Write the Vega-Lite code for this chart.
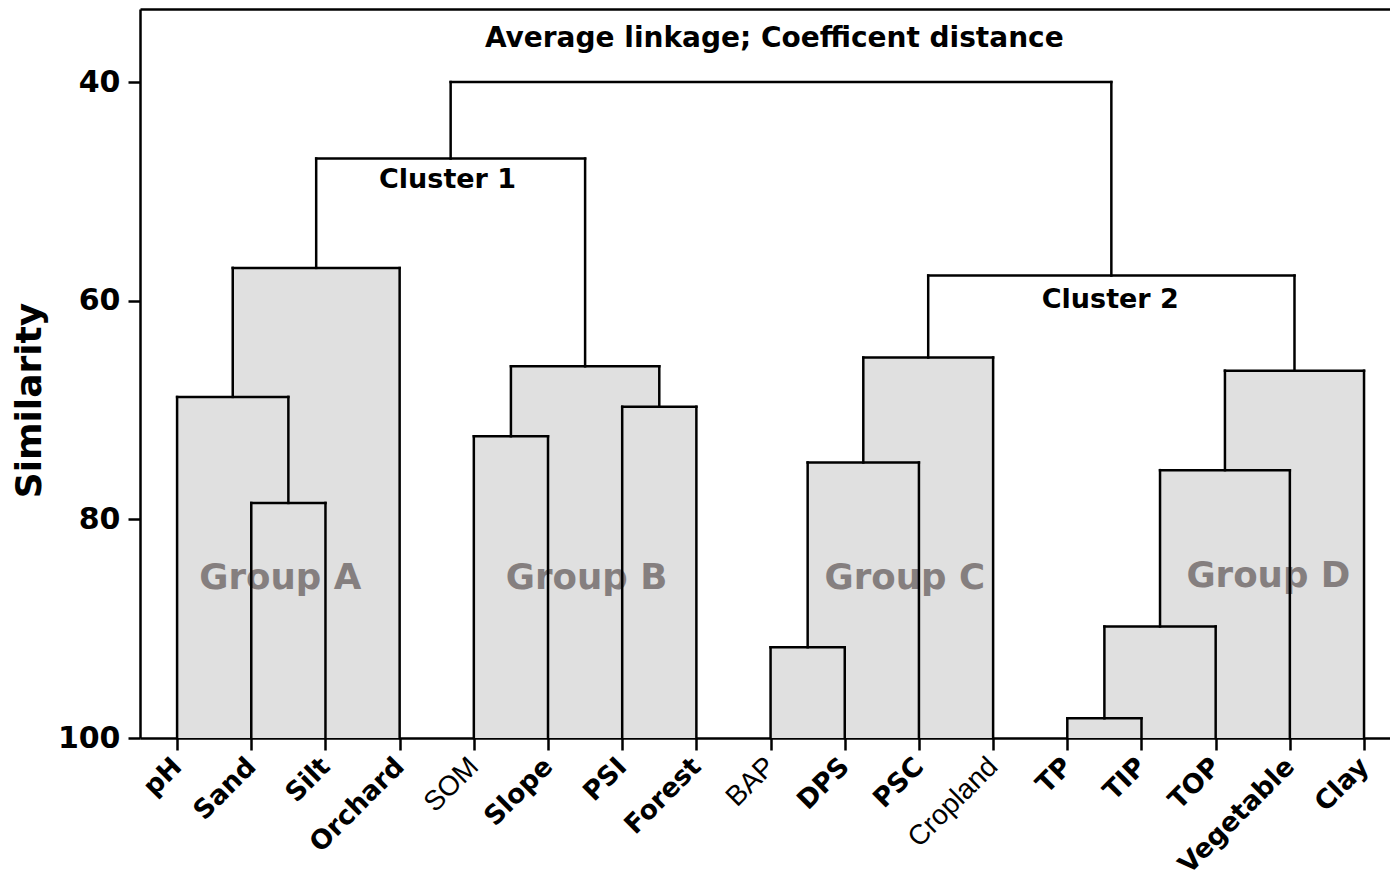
{
  "$schema": "https://vega.github.io/schema/vega-lite/v6.json",
  "width": 1250,
  "height": 729,
  "autosize": {"type": "none"},
  "padding": {"left": 140, "top": 9, "right": 0, "bottom": 145},
  "background": "white",
  "config": {
    "view": {"stroke": null},
    "axis": {
      "grid": false,
      "domainColor": "black",
      "domainWidth": 2.5,
      "tickColor": "black",
      "tickWidth": 2.5,
      "labelColor": "black",
      "titleColor": "black"
    }
  },
  "datasets": {
    "merges": [
      {"node": "A1", "left": 1, "right": 2, "leftH": 100, "rightH": 100, "height": 78.5, "group": "A"},
      {"node": "A2", "left": 0, "right": 1.5, "leftH": 100, "rightH": 78.5, "height": 68.8, "group": "A"},
      {"node": "A3", "left": 0.75, "right": 3, "leftH": 68.8, "rightH": 100, "height": 57.0, "group": "A"},
      {"node": "B1", "left": 4, "right": 5, "leftH": 100, "rightH": 100, "height": 72.4, "group": "B"},
      {"node": "B2", "left": 6, "right": 7, "leftH": 100, "rightH": 100, "height": 69.7, "group": "B"},
      {"node": "B3", "left": 4.5, "right": 6.5, "leftH": 72.4, "rightH": 69.7, "height": 66.0, "group": "B"},
      {"node": "Cluster1", "left": 1.875, "right": 5.5, "leftH": 57.0, "rightH": 66.0, "height": 47.0, "group": null},
      {"node": "C1", "left": 8, "right": 9, "leftH": 100, "rightH": 100, "height": 91.7, "group": "C"},
      {"node": "C2", "left": 8.5, "right": 10, "leftH": 91.7, "rightH": 100, "height": 74.8, "group": "C"},
      {"node": "C3", "left": 9.25, "right": 11, "leftH": 74.8, "rightH": 100, "height": 65.2, "group": "C"},
      {"node": "D1", "left": 12, "right": 13, "leftH": 100, "rightH": 100, "height": 98.2, "group": "D"},
      {"node": "D2", "left": 12.5, "right": 14, "leftH": 98.2, "rightH": 100, "height": 89.8, "group": "D"},
      {"node": "D3", "left": 13.25, "right": 15, "leftH": 89.8, "rightH": 100, "height": 75.5, "group": "D"},
      {"node": "D4", "left": 14.125, "right": 16, "leftH": 75.5, "rightH": 100, "height": 66.4, "group": "D"},
      {"node": "Cluster2", "left": 10.125, "right": 15.0625, "leftH": 65.2, "rightH": 66.4, "height": 57.7, "group": null},
      {"node": "Root", "left": 3.6875, "right": 12.59375, "leftH": 47.0, "rightH": 57.7, "height": 40.0, "group": null}
    ],
    "notes": [
      {"x": 8.05, "y": 36.1, "text": "Average linkage; Coefficent distance", "kind": "title"},
      {"x": 3.646, "y": 49.0, "text": "Cluster 1", "kind": "cluster"},
      {"x": 12.58, "y": 59.95, "text": "Cluster 2", "kind": "cluster"},
      {"x": 1.39, "y": 85.4, "text": "Group A", "kind": "group"},
      {"x": 5.52, "y": 85.4, "text": "Group B", "kind": "group"},
      {"x": 9.81, "y": 85.4, "text": "Group C", "kind": "group"},
      {"x": 14.71, "y": 85.2, "text": "Group D", "kind": "group"}
    ]
  },
  "resolve": {"axis": {"x": "independent"}},
  "layer": [
    {
      "data": {"name": "merges"},
      "transform": [{"filter": "datum.group != null"}],
      "mark": {"type": "rect", "fill": "#e0e0e0"},
      "encoding": {
        "x": {
          "field": "left",
          "type": "quantitative",
          "scale": {"domain": [-0.5, 16.35], "zero": false, "nice": false},
          "axis": {
            "orient": "bottom",
            "title": null,
            "values": [0, 1, 2, 3, 4, 5, 6, 7, 8, 9, 10, 11, 12, 13, 14, 15, 16],
            "labelExpr": "['pH','Sand','Silt','Orchard','SOM','Slope','PSI','Forest','BAP','DPS','PSC','Cropland','TP','TIP','TOP','Vegetable','Clay'][datum.value]",
            "labelAngle": -45,
            "labelAlign": "right",
            "labelBaseline": "middle",
            "labelFontSize": {"condition": {"test": "indexof([4, 8, 11], datum.value) >= 0", "value": 28}, "value": 26.6},
            "labelFont": {"condition": {"test": "indexof([4, 8, 11], datum.value) >= 0", "value": "Liberation Sans"}, "value": "DejaVu Sans"},
            "labelFontWeight": {"condition": {"test": "indexof([4, 8, 11], datum.value) >= 0", "value": "normal"}, "value": "bold"},
            "labelPadding": 12,
            "labelOverlap": false,
            "labelBound": false,
            "labelFlush": false,
            "tickSize": 12
          }
        },
        "x2": {"field": "right"},
        "y": {
          "field": "height",
          "type": "quantitative",
          "title": "Similarity",
          "scale": {"domain": [33.32, 100], "reverse": true, "zero": false, "nice": false},
          "axis": {
            "values": [40, 60, 80, 100],
            "ticks": true,
            "tickSize": 12,
            "labelFont": "DejaVu Sans",
            "labelFontWeight": "bold",
            "labelFontSize": 30,
            "labelPadding": 8,
            "titleFont": "DejaVu Sans",
            "titleFontWeight": "bold",
            "titleFontSize": 36,
            "titlePadding": 9,
            "titleY": 391
          }
        },
        "y2": {"datum": 100}
      }
    },
    {
      "data": {"name": "notes"},
      "transform": [{"filter": "datum.kind == 'group'"}],
      "mark": {"type": "text", "font": "DejaVu Sans", "fontWeight": "bold", "fontSize": 35.6, "color": "#857f7f", "align": "center", "baseline": "middle"},
      "encoding": {
        "x": {"field": "x", "type": "quantitative", "axis": null},
        "y": {"field": "y", "type": "quantitative", "title": "Similarity"},
        "text": {"field": "text"}
      }
    },
    {
      "data": {"name": "notes"},
      "transform": [{"filter": "datum.kind == 'cluster'"}],
      "mark": {"type": "text", "font": "DejaVu Sans", "fontWeight": "bold", "fontSize": 27, "color": "black", "align": "center", "baseline": "middle"},
      "encoding": {
        "x": {"field": "x", "type": "quantitative", "axis": null},
        "y": {"field": "y", "type": "quantitative", "title": "Similarity"},
        "text": {"field": "text"}
      }
    },
    {
      "data": {"name": "notes"},
      "transform": [{"filter": "datum.kind == 'title'"}],
      "mark": {"type": "text", "font": "DejaVu Sans", "fontWeight": "bold", "fontSize": 28, "color": "black", "align": "center", "baseline": "middle"},
      "encoding": {
        "x": {"field": "x", "type": "quantitative", "axis": null},
        "y": {"field": "y", "type": "quantitative", "title": "Similarity"},
        "text": {"field": "text"}
      }
    },
    {
      "data": {"name": "merges"},
      "mark": {"type": "rule", "color": "black", "strokeWidth": 2.5, "strokeCap": "square"},
      "encoding": {
        "x": {"field": "left", "type": "quantitative", "axis": {"orient": "top", "title": null, "labels": false, "ticks": false, "domain": true}},
        "x2": {"field": "right"},
        "y": {"field": "height", "type": "quantitative", "title": "Similarity"}
      }
    },
    {
      "data": {"name": "merges"},
      "mark": {"type": "rule", "color": "black", "strokeWidth": 2.5, "strokeCap": "square"},
      "encoding": {
        "x": {"field": "left", "type": "quantitative", "axis": null},
        "y": {"field": "leftH", "type": "quantitative", "title": "Similarity"},
        "y2": {"field": "height"}
      }
    },
    {
      "data": {"name": "merges"},
      "mark": {"type": "rule", "color": "black", "strokeWidth": 2.5, "strokeCap": "square"},
      "encoding": {
        "x": {"field": "right", "type": "quantitative", "axis": null},
        "y": {"field": "rightH", "type": "quantitative", "title": "Similarity"},
        "y2": {"field": "height"}
      }
    }
  ]
}
